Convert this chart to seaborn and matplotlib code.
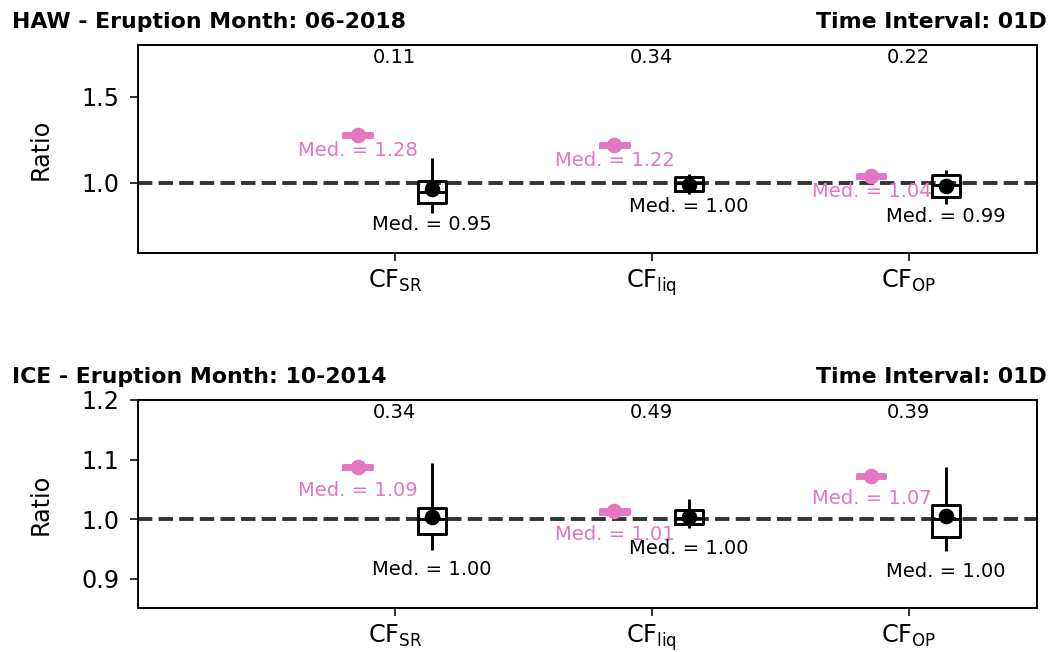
import numpy as np
import pandas as pd
import matplotlib
matplotlib.use("Agg")
import matplotlib.pyplot as plt
import matplotlib.transforms as mtransforms
import seaborn as sns

# ---------------- data ----------------
categories = ["CF$_{\\mathrm{SR}}$", "CF$_{\\mathrm{liq}}$", "CF$_{\\mathrm{OP}}$"]
series_names = ["series_pink", "series_black"]

panel_left_titles = ["HAW - Eruption Month: 06-2018", "ICE - Eruption Month: 10-2014"]
panel_right_titles = ["Time Interval: 01D", "Time Interval: 01D"]

top_numbers_haw = ["0.11", "0.34", "0.22"]
top_numbers_ice = ["0.34", "0.49", "0.39"]

# five-number summaries per category: (low whisker, q1, median, q3, high whisker)
haw_pink = [[1.269, 1.269, 1.280, 1.291, 1.291],
            [1.209, 1.209, 1.220, 1.231, 1.231],
            [1.030, 1.030, 1.041, 1.052, 1.052]]
haw_black = [[0.826, 0.884, 0.948, 1.012, 1.145],
             [0.936, 0.955, 1.000, 1.037, 1.052],
             [0.878, 0.920, 0.990, 1.046, 1.075]]
ice_pink = [[1.0835, 1.0835, 1.087, 1.0905, 1.0905],
            [1.0095, 1.0095, 1.013, 1.0165, 1.0165],
            [1.0695, 1.0695, 1.073, 1.0765, 1.0765]]
ice_black = [[0.949, 0.975, 1.000, 1.018, 1.094],
             [0.985, 0.992, 1.002, 1.015, 1.034],
             [0.946, 0.970, 1.000, 1.023, 1.087]]

haw_pink_mean = [1.280, 1.220, 1.042]
haw_black_mean = [0.965, 0.987, 0.983]
ice_pink_mean = [1.087, 1.013, 1.073]
ice_black_mean = [1.003, 1.004, 1.006]

haw_yticks = [1.0, 1.5]
ice_yticks = [0.9, 1.0, 1.1, 1.2]

# ---------------- style ----------------
PINK = "#e377c2"
BLACK = "#000000"
colors = [PINK, BLACK]

plt.rcParams["font.family"] = ["DejaVu Sans"]
plt.rcParams["mathtext.fontset"] = "dejavusans"

W, H = 1057, 652
DPI = 140
fig = plt.figure(figsize=(W / DPI, H / DPI), dpi=DPI)


def build_df(pink, black):
    rows = []
    for ci, cat in enumerate(categories):
        for v in pink[ci]:
            rows.append((cat, series_names[0], v))
        for v in black[ci]:
            rows.append((cat, series_names[1], v))
    return pd.DataFrame(rows, columns=["cf", "series", "value"])


panels = [
    dict(pink=haw_pink, black=haw_black, pmean=haw_pink_mean, bmean=haw_black_mean,
         nums=top_numbers_haw, lt=panel_left_titles[0], rt=panel_right_titles[0],
         ylim=(0.594, 1.80), yticks=haw_yticks, rect=(138, 45, 1037, 253),
         poff=14, boff=12),
    dict(pink=ice_pink, black=ice_black, pmean=ice_pink_mean, bmean=ice_black_mean,
         nums=top_numbers_ice, lt=panel_left_titles[1], rt=panel_right_titles[1],
         ylim=(0.851, 1.20), yticks=ice_yticks, rect=(138, 400, 1037, 608),
         poff=21, boff=20),
]

WIDTH = 0.58
GAP = 0.62
half = WIDTH / 2

for p in panels:
    x0, y0, x1, y1 = p["rect"]
    ax = fig.add_axes([x0 / W, 1 - y1 / H, (x1 - x0) / W, (y1 - y0) / H])
    df = build_df(p["pink"], p["black"])

    ax.axhline(1.0, color="0.2", ls="--", lw=2.0, zorder=1)

    sns.boxplot(data=df, x="cf", y="value", hue="series", order=categories,
                hue_order=series_names, palette=colors, width=WIDTH, gap=GAP,
                fill=False, whis=(0, 100), showcaps=False, showfliers=False,
                linewidth=1.5, legend=False, ax=ax, zorder=2)

    for si, (means, summ, col, off) in enumerate(
            [(p["pmean"], p["pink"], PINK, p["poff"]),
             (p["bmean"], p["black"], BLACK, p["boff"])]):
        offs = (si - 0.5) * half
        xs = np.arange(len(categories)) + offs
        ax.plot(xs, means, "o", color=col, ms=7, zorder=4, ls="none")
        for xi, s in zip(xs, summ):
            ax.annotate(f"Med. = {s[2]:.2f}", xy=(xi, s[0]), xytext=(0, -off),
                        textcoords="offset pixels", ha="center", va="center",
                        color=col, fontsize=10, zorder=5)

    trans = mtransforms.blended_transform_factory(ax.transData, ax.transAxes)
    for ci, t in enumerate(p["nums"]):
        ax.text(ci, 0.94, t, transform=trans, ha="center", va="center", fontsize=10)

    ax.set_xlim(-1, 2.5)
    ax.set_ylim(*p["ylim"])
    ax.set_yticks(p["yticks"])
    ax.set_yticklabels([f"{v:.1f}" for v in p["yticks"]])
    ax.tick_params(axis="both", labelsize=12.3, direction="out", length=4)
    ax.tick_params(axis="y", pad=5.5)
    ax.set_xlabel("")
    ax.set_ylabel("Ratio", fontsize=12.3, labelpad=15)
    for s in ax.spines.values():
        s.set_visible(True)
        s.set_color("black")
        s.set_linewidth(1.0)

    ax.text(-0.140, 1.084, p["lt"], transform=ax.transAxes, ha="left",
            va="baseline", fontsize=11.3, fontweight="bold")
    ax.text(1.011, 1.084, p["rt"], transform=ax.transAxes, ha="right",
            va="baseline", fontsize=11.3, fontweight="bold")

fig.savefig("out.png", dpi=DPI)
